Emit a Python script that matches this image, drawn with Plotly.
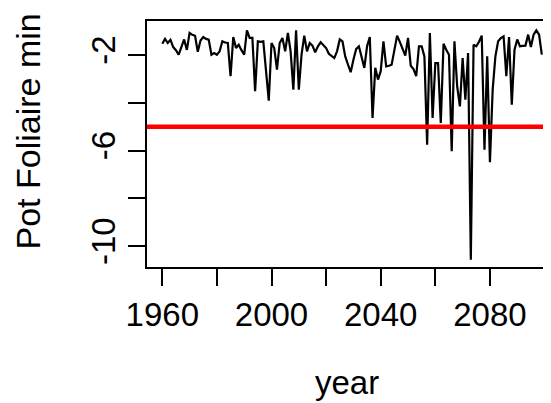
import plotly.graph_objects as go

years = list(range(1960, 2100))
pot_foliaire_min = [
    -1.53, -1.33, -1.50, -1.37, -1.67, -1.80, -1.99, -1.71, -1.35, -1.79,
    -1.08, -1.16, -1.20, -1.87, -1.40, -1.25, -1.33, -1.36, -1.99, -1.92,
    -1.99, -1.85, -1.43, -1.48, -1.50, -2.89, -1.25, -1.71, -1.57, -1.80,
    -1.99, -0.97, -1.29, -1.29, -3.52, -1.43, -1.45, -1.43, -2.67, -3.91,
    -1.50, -1.71, -2.61, -1.50, -1.29, -1.85, -1.08, -1.85, -3.45, -0.97,
    -3.45, -1.99, -1.19, -1.85, -1.50, -1.61, -1.89, -1.64, -1.47, -1.59,
    -1.71, -1.95, -2.05, -2.13, -1.85, -1.35, -1.43, -2.06, -2.40, -2.72,
    -2.20, -1.75, -1.64, -2.10, -2.54, -1.64, -1.25, -4.64, -2.54, -3.03,
    -2.68, -1.43, -2.48, -2.45, -2.41, -1.80, -1.19, -1.45, -1.71, -2.03,
    -1.29, -2.45, -2.59, -2.89, -1.64, -1.64, -2.06, -5.75, -1.08, -4.64,
    -2.34, -2.34, -4.85, -1.53, -1.78, -1.99, -6.03, -1.43, -3.31, -4.15,
    -2.13, -3.87, -1.92, -10.57, -1.57, -1.64, -1.45, -1.19, -5.96, -2.06,
    -6.49, -3.45, -2.06, -1.43, -1.29, -1.22, -2.89, -1.25, -4.08, -1.78,
    -1.35, -1.64, -1.62, -1.61, -1.15, -1.67, -1.15, -0.97, -1.15, -1.99,
]
threshold = -5

x_tickvals = [1960, 1980, 2000, 2020, 2040, 2060, 2080, 2100]
x_ticktext = ["1960", "", "2000", "", "2040", "", "2080", ""]
y_tickvals = [-2, -4, -6, -8, -10]
y_ticktext = ["-2", "", "-6", "", "-10"]

FONT = "Liberation Sans, Arial, sans-serif"

fig = go.Figure()
fig.add_trace(go.Scatter(
    x=years, y=pot_foliaire_min, mode="lines",
    line=dict(color="black", width=2.2),
    showlegend=False, hoverinfo="skip",
))
fig.add_shape(type="line", xref="paper", yref="y", x0=0, x1=1,
              y0=threshold, y1=threshold,
              line=dict(color="#ff0000", width=4.5))

fig.update_layout(
    width=551, height=403,
    margin=dict(l=139, r=10, t=13, b=144),
    paper_bgcolor="white", plot_bgcolor="white",
    font=dict(family=FONT, size=33, color="black"),
    showlegend=False,
    xaxis=dict(
        range=[1954.4, 2100.9], tickmode="array",
        tickvals=x_tickvals, ticktext=x_ticktext,
        ticks="outside", ticklen=17, tickwidth=1.8, tickcolor="black",
        showline=True, linecolor="black", linewidth=2, mirror=True,
        showgrid=False, zeroline=False,
        tickfont=dict(family=FONT, size=33, color="black"),
    ),
    yaxis=dict(
        range=[-10.87, -0.58], tickmode="array",
        tickvals=y_tickvals, ticktext=y_ticktext, tickangle=-90,
        ticks="outside", ticklen=17, tickwidth=1.8, tickcolor="black",
        showline=True, linecolor="black", linewidth=2, mirror=True,
        showgrid=False, zeroline=False,
        tickfont=dict(family=FONT, size=33, color="black"),
    ),
    annotations=[
        dict(text="year", xref="paper", yref="paper", x=0.5, y=-0.47,
             xanchor="center", yanchor="middle", showarrow=False,
             font=dict(family=FONT, size=33, color="black")),
        dict(text="Pot Foliaire min", xref="paper", yref="paper",
             x=-0.298, y=0.55, textangle=-90,
             xanchor="center", yanchor="middle", showarrow=False,
             font=dict(family=FONT, size=34, color="black")),
    ],
)

fig.write_html("out.html")
